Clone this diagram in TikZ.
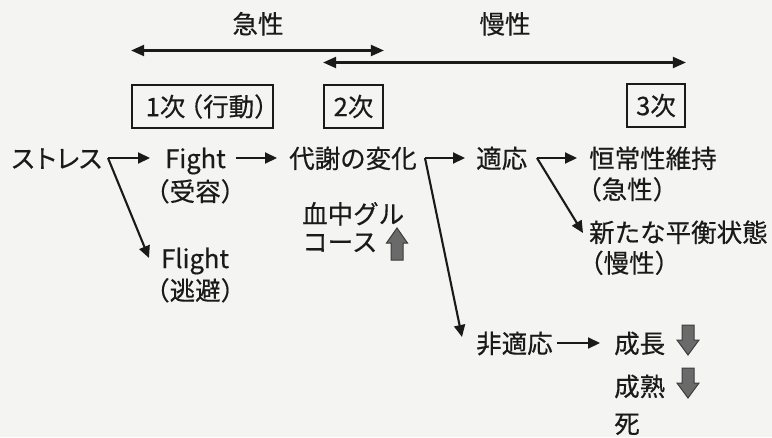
\documentclass[tikz,border=0pt]{standalone}
\usepackage{fontspec}
\newfontfamily\jp[FakeBold=0.5]{Noto Sans CJK JP}
\usetikzlibrary{arrows.meta,calc}
\definecolor{paper}{HTML}{F4F4F2}
\definecolor{ink}{HTML}{1A1A1A}
\definecolor{blkfill}{HTML}{6A6A6A}
\begin{document}
\begin{tikzpicture}[x=1pt,y=-1pt,
  txt/.style={inner sep=0pt, font=\jp\fontsize{25.5}{30}\selectfont, text=ink, anchor=base west},
  lbl/.style={inner sep=0pt, font=\jp\fontsize{25.5}{30}\selectfont, text=ink, anchor=base},
  stage/.style={draw=ink, line width=1.8pt, inner sep=0pt, font=\jp\fontsize{25.5}{30}\selectfont, text=ink, minimum height=43pt},
  arr/.style={draw=ink, line width=2.1pt, -{Triangle[length=12pt,width=11pt]}},
  dbl/.style={draw=ink, line width=2.1pt, {Triangle[length=13pt,width=11pt]}-{Triangle[length=13pt,width=11pt]}},
  blockarrow/.style={draw=ink!85, fill=blkfill, line width=1pt, line join=miter},
  uparr/.pic={\draw[blockarrow] (-6,16) -- (-6,-1) -- (-10.5,-1) -- (0,-16) -- (10.5,-1) -- (6,-1) -- (6,16) -- cycle;},
  downarr/.pic={\draw[blockarrow] (-6,-15) -- (-6,0) -- (-11,0) -- (0,15) -- (11,0) -- (6,0) -- (6,-15) -- cycle;}
]
\fill[paper] (0,0) rectangle (772,437);
\useasboundingbox (0,0) rectangle (772,437);

% top labels
\node[lbl] (kyusei) at (258,33.5) {急性};
\node[lbl] (mansei) at (505,33.5) {慢性};

% stage boxes
\node[stage, minimum width=141pt] (box1) at (202.5,106.5) {\kern0.35em1次\kern-0.3em（行動）\kern-0.45em};
\node[stage, minimum width=59pt] (box2) at (353.5,106.5) {2次};
\node[stage, minimum width=58pt] (box3) at (656,105.5) {3次};

% time-span arrows
\coordinate (r1) at (0,50.5);
\coordinate (r2) at (0,62.5);
\draw[dbl] (box1.west |- r1) -- (box2.east |- r1);
\draw[dbl] (box2.west |- r2) -- (box3.east |- r2);

% texts
\node[txt] (stress) at (10,168) {ス\kern-3ptト\kern-3ptレ\kern-3ptス};
\node[txt] (fight) at (165,168) {Fight};
\node[txt] (juyou) at (144,201) {（受容）};
\node[txt] (flight) at (161,268) {Flight};
\node[txt] (touhi) at (144,300) {（逃避）};
\node[txt] (metab) at (289,168) {代謝の変化};
\node[txt] (gluc1) at (302,223.5) {血中グル};
\node[txt] (gluc2) at (302,251.5) {コース};
\node[txt] (tekiou) at (476,168) {適応};
\node[txt] (koujou) at (589,168) {恒常性維持};
\node[txt] (kyusei2) at (576,199) {（急性）};
\node[txt] (aratana) at (589,242) {新たな平衡状態};
\node[txt] (mansei2) at (578,272.5) {（慢性）};
\node[txt] (hitekiou) at (476,353) {非適応};
\node[txt] (seichou) at (614,353) {成長};
\node[txt] (seijuku) at (614,396) {成熟};
\node[txt] (shi) at (614,433) {死};

% block arrows
\pic at (397,244) {uparr};
\pic at (688,340) {downarr};
\pic at (688,383) {downarr};

% connectors
\coordinate (s0) at (108,158);
\draw[arr, shorten >=15pt] (s0) -- (s0 -| fight.west);
\draw[arr] (s0) -- ($(flight.base west)+(-12,-10)$);
\draw[arr, shorten <=10pt, shorten >=12pt] (fight.east |- s0) -- (metab.west |- s0);

\coordinate (m0) at (425,158);
\draw[arr, shorten >=11pt] (m0) -- (m0 -| tekiou.west);
\draw[arr] (m0) -- ($(hitekiou.base west)+(-14,-16)$);

\coordinate (t0) at (537,158);
\draw[arr, shorten >=12pt] (t0) -- (t0 -| koujou.west);
\draw[arr] (t0) -- ($(aratana.base west)+(-6,-9)$);

\draw[arr] ($(hitekiou.base east)+(4,-10)$) -- ($(seichou.base west)+(-14,-10)$);
\end{tikzpicture}
\end{document}
